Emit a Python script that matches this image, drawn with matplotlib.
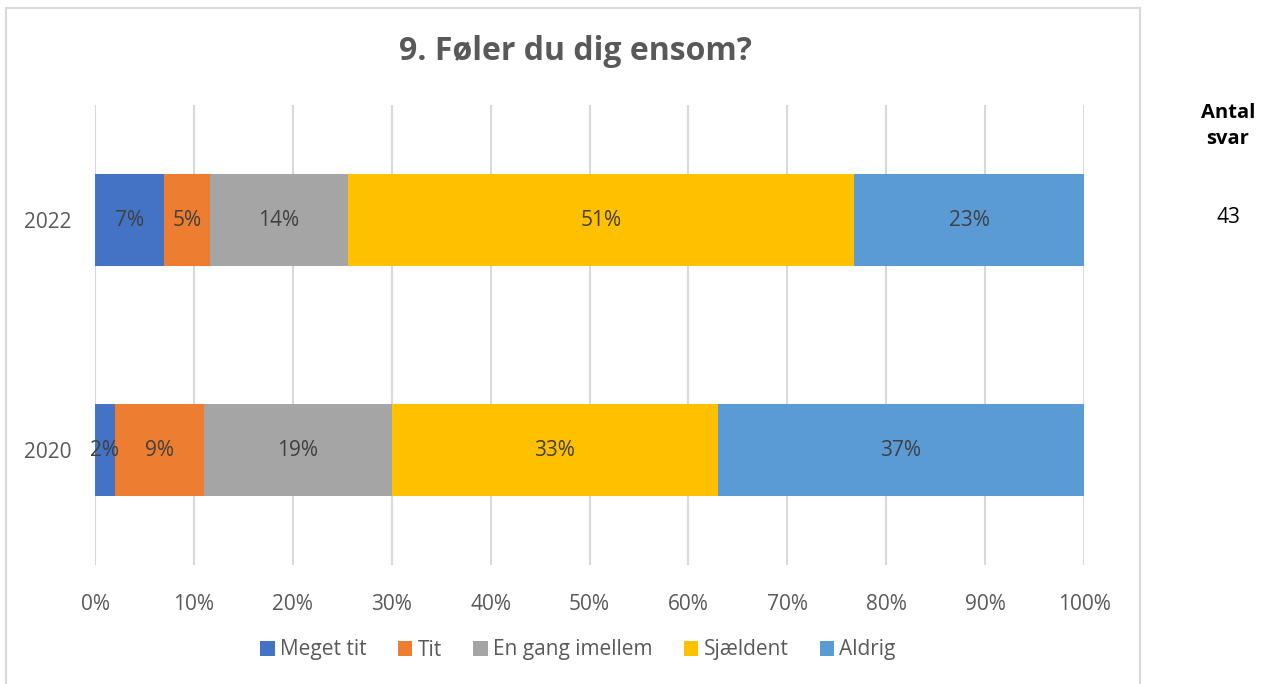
import matplotlib.pyplot as plt
from matplotlib.patches import Rectangle
import numpy as np

plt.rcParams['font.family'] = ['Open Sans', 'DejaVu Sans']

years = ['2020', '2022']
categories = ['Meget tit', 'Tit', 'En gang imellem', 'Sjældent', 'Aldrig']
colors = ['#4472c4', '#ed7d31', '#a5a5a5', '#ffc000', '#5b9bd5']
# andele i procent, en liste pr. svarkategori (2020, 2022)
meget_tit = [2, 6.98]
tit = [9, 4.65]
en_gang_imellem = [19, 13.95]
sjaeldent = [33, 51.16]
aldrig = [37, 23.26]
antal_svar = 43

series = [meget_tit, tit, en_gang_imellem, sjaeldent, aldrig]

fig = plt.figure(figsize=(12.62, 6.84), dpi=100)
ax = fig.add_axes([95 / 1262, 1 - 565 / 684, 989 / 1262, 460 / 684])

ypos = np.arange(len(years))
left = np.zeros(len(years))
for vals, cat, col in zip(series, categories, colors):
    vals = np.array(vals)
    bars = ax.barh(ypos, vals, 0.4, left=left, color=col, label=cat, zorder=3)
    for b, v in zip(bars, vals):
        ax.text(b.get_x() + b.get_width() / 2, b.get_y() + b.get_height() / 2,
                f'{v:.0f}%', ha='center', va='center', fontsize=15, color='#404040', zorder=4)
    left += vals

ax.set_xlim(0, 100)
ax.set_ylim(-0.5, 1.5)
ax.set_xticks(np.arange(0, 101, 10))
ax.set_xticklabels([f'{t}%' for t in range(0, 101, 10)])
ax.set_yticks(ypos)
ax.set_yticklabels(years)
ax.tick_params(axis='both', length=0, labelsize=15, labelcolor='#595959')
ax.tick_params(axis='x', pad=21)
ax.tick_params(axis='y', pad=17)
ax.grid(axis='x', color='#d9d9d9', linewidth=1.5, zorder=0)
for s in ax.spines.values():
    s.set_visible(False)

fig.text(575 / 1262, 1 - 52 / 684, '9. Føler du dig ensom?', ha='center', va='center',
         fontsize=23, fontweight='bold', color='#595959')

ax.legend(loc='center', bbox_to_anchor=(578 / 1262, 1 - 650 / 684), bbox_transform=fig.transFigure,
          ncol=5, frameon=False, fontsize=15, handlelength=0.7, handleheight=0.7,
          handletextpad=0.25, columnspacing=1.5, labelcolor='#595959')

# ramme om diagrammet
fig.patches.append(Rectangle((6 / 1262, -0.05), 1134 / 1262, 1.05 - 8 / 684, transform=fig.transFigure,
                             fill=False, edgecolor='#d9d9d9', linewidth=1.5))

fig.text(1228 / 1262, 1 - 126 / 684, 'Antal\nsvar', ha='center', va='center',
         fontsize=14.5, fontweight='bold', color='black', linespacing=1.4)
fig.text(1228 / 1262, 1 - 218 / 684, str(antal_svar), ha='center', va='center',
         fontsize=15, color='black')

fig.savefig('out.png', dpi=100)
